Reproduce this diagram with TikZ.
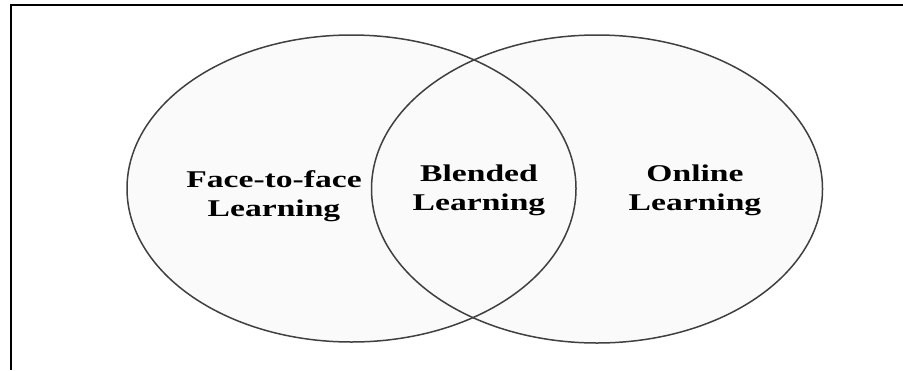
\documentclass[tikz,border=0pt]{standalone}
\usepackage{fontspec}
\setmainfont{Liberation Serif}

\begin{document}
\begin{tikzpicture}[x=0.5pt,y=-0.5pt,
  venn/.style={draw=black!75,line width=0.75pt},
  vennlabel/.style={font=\fontsize{12}{14.5}\selectfont\bfseries,
    align=center,xscale=1.4,inner sep=0pt}]
  \useasboundingbox (0,0) rectangle (903,370);
  \draw[line width=1pt]
    (11,370)
    --
    (11,5)
    --
    (903,5);
  \coordinate (faceC) at (351.5,188.5);
  \coordinate (onlineC) at (597,189);
  \fill[black!2]
    (faceC) ellipse [x radius=224.5,y radius=153.5]
    (onlineC) ellipse [x radius=225.5,y radius=154];
  \draw[venn] (faceC) ellipse [x radius=224.5,y radius=153.5];
  \draw[venn] (onlineC) ellipse [x radius=225.5,y radius=154];
  \node[vennlabel] (face) at (274,196.5) {Face-to-face\\Learning};
  \node[vennlabel] (blended) at (479,190.5) {Blended\\Learning};
  \node[vennlabel] (online) at (695,190.5) {Online\\Learning};
\end{tikzpicture}
\end{document}
